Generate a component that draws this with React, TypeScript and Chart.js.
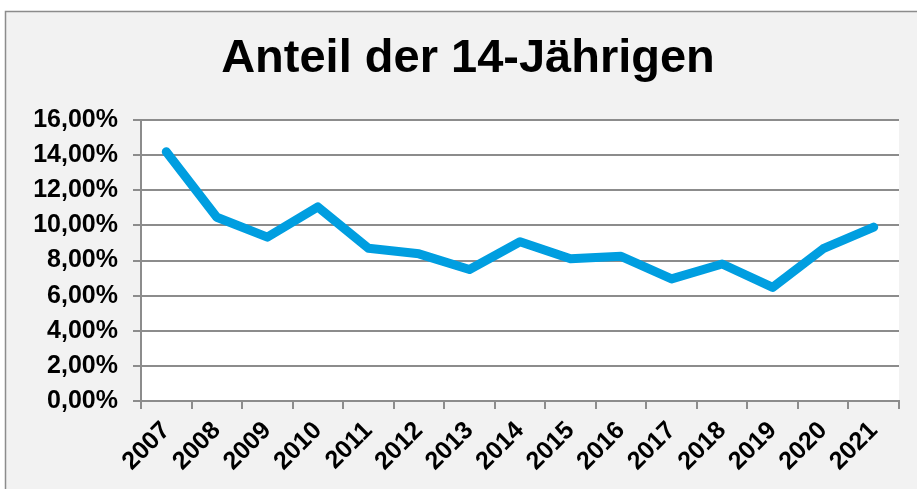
import React, { useEffect, useRef } from "react";
import { Chart, registerables } from "chart.js";

Chart.register(...registerables);

const TITLE = "Anteil der 14-Jährigen";
const YEARS = ["2007", "2008", "2009", "2010", "2011", "2012", "2013", "2014", "2015", "2016", "2017", "2018", "2019", "2020", "2021"];
const SHARE = [14.19, 10.46, 9.33, 11.05, 8.7, 8.38, 7.49, 9.07, 8.1, 8.24, 6.95, 7.8, 6.47, 8.67, 9.9];
const Y_MIN = 0;
const Y_MAX = 16;
const Y_STEP = 2;

const FONT = "'Liberation Sans', Arial, sans-serif";

const bgPlugin = {
  id: "bgPlugin",
  beforeDraw(chart: any) {
    const { ctx, width, height, chartArea } = chart;
    ctx.save();
    ctx.fillStyle = "#ffffff";
    ctx.fillRect(0, 0, width, height);
    ctx.fillStyle = "#f2f2f2";
    ctx.fillRect(5, 11, width, height);
    ctx.strokeStyle = "#8c8c8c";
    ctx.lineWidth = 1.5;
    ctx.strokeRect(5.5, 11.5, width + 20, height + 20);
    ctx.fillStyle = "#ffffff";
    ctx.fillRect(chartArea.left, chartArea.top, chartArea.right - chartArea.left, chartArea.bottom - chartArea.top);
    ctx.restore();
  },
};

export default function App() {
  const ref = useRef<HTMLCanvasElement | null>(null);
  useEffect(() => {
    if (!ref.current) return;
    const chart = new Chart(ref.current, {
      type: "line",
      data: {
        labels: YEARS,
        datasets: [
          {
            data: SHARE,
            borderColor: "#009ee0",
            backgroundColor: "#009ee0",
            borderWidth: 9,
            borderCapStyle: "round",
            borderJoinStyle: "round",
            pointRadius: 0,
            tension: 0,
            fill: false,
            yAxisID: "y",
          },
        ],
      },
      options: {
        responsive: false,
        animation: false,
        layout: { padding: { left: 19, right: 0, top: 0, bottom: 0 } },
        plugins: {
          legend: { display: false },
          tooltip: { enabled: false },
          title: {
            display: true,
            text: TITLE,
            color: "#000000",
            font: { family: FONT, size: 47, weight: "bold", lineHeight: 1.2 },
            padding: { top: 31, bottom: 32.6 },
          },
        },
        scales: {
          x: {
            offset: true,
            grid: {
              display: true,
              drawOnChartArea: false,
              drawTicks: true,
              tickLength: 8,
              offset: true,
              color: "#8c8c8c",
              lineWidth: 2,
            },
            border: { display: true, color: "#8c8c8c", width: 2 },
            ticks: {
              autoSkip: false,
              maxRotation: 45,
              minRotation: 45,
              padding: 7,
              color: "#000000",
              font: { family: FONT, size: 25, weight: "bold" },
            },
            afterFit(scale: any) {
              scale.height = 88;
            },
          },
          y: {
            min: Y_MIN,
            max: Y_MAX,
            grid: {
              color: "#8c8c8c",
              lineWidth: 2,
              tickLength: 8,
              drawTicks: true,
            },
            border: { display: true, color: "#8c8c8c", width: 2 },
            ticks: {
              stepSize: Y_STEP,
              padding: 15,
              color: "#000000",
              font: { family: FONT, size: 25, weight: "bold" },
              callback: (v: any) => `${Number(v).toFixed(2).replace(".", ",")}%`,
            },
            afterFit(scale: any) {
              scale.width = 141 - 19;
            },
          },
          yRight: {
            position: "right",
            display: true,
            grid: { display: false, drawTicks: false },
            border: { display: false },
            ticks: { display: false },
            afterFit(scale: any) {
              scale.width = 18;
            },
          },
        },
      },
      plugins: [bgPlugin],
    });
    return () => chart.destroy();
  }, []);
  return (
    <div style={{ position: "fixed", left: 0, top: 0, width: 917, height: 489 }}>
      <canvas ref={ref} width={917} height={489} style={{ display: "block" }} />
    </div>
  );
}
